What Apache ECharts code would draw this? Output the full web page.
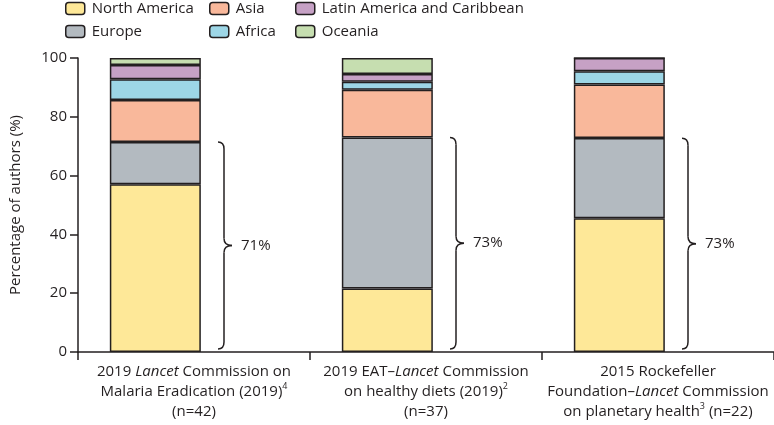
<!DOCTYPE html>
<html>
<head>
<meta charset="utf-8">
<style>
    html, body { margin: 0; padding: 0; background: #fff; }
    #chart { width: 774px; height: 425px; }
</style>
</head>
<body>
<div id="chart"></div>
<script src="https://cdn.jsdelivr.net/npm/echarts@6/dist/echarts.min.js"></script>
<script>
    // category labels (rich text: i = italic, sup = superscript)
    var categories = [
        '2019 {i|Lancet} Commission on\nMalaria Eradication (2019){sup|4}\n(n=42)',
        '2019 EAT–{i|Lancet} Commission\non healthy diets (2019){sup|2}\n(n=37)',
        '2015 Rockefeller\nFoundation–{i|Lancet} Commission\non planetary health{sup|3} (n=22)'
    ];
    // percentage of authors per region
    var northAmerica = [57.1, 21.6, 45.5];
    var europe = [14.3, 51.4, 27.3];
    var asia = [14.3, 16.2, 18.2];
    var africa = [7.1, 2.7, 4.5];
    var latinAmerica = [4.8, 2.7, 4.5];
    var oceania = [2.4, 5.4, 0];
    // braces: [category, from, to, label]
    var braces = [
        [0, 1, 71.4, '71%'],
        [1, 1, 73.0, '73%'],
        [2, 1, 72.7, '73%']
    ];
    var yTicks = [0, 20, 40, 60, 80, 100];

    var FONT = '"Open Sans", "Noto Sans", sans-serif';
    var INK = '#231f20';
    var BRACE_DX = 30;

    var chart = echarts.init(document.getElementById('chart'));

    function bar(name, data, color) {
        return {
            name: name,
            type: 'bar',
            stack: 'a',
            data: data,
            barWidth: 91,
            barGap: '-15%',
            itemStyle: { color: color, borderColor: INK, borderWidth: 1.5 },
            emphasis: { disabled: true }
        };
    }

    function legend(left, names) {
        return {
            orient: 'vertical',
            left: left,
            top: 1,
            padding: 0,
            itemWidth: 19,
            itemHeight: 12,
            itemGap: 8,
            selectedMode: false,
            data: names,
            itemStyle: { borderColor: INK, borderWidth: 1.5 },
            textStyle: { fontFamily: FONT, fontSize: 15, color: INK, padding: [0, 0, 0, 2] }
        };
    }

    function renderBrace(params, api) {
        var c = api.value(0);
        var top = api.coord([c, api.value(2)]);
        var bot = api.coord([c, api.value(1)]);
        var x0 = top[0] + BRACE_DX;
        var y1 = top[1], y2 = bot[1], ym = (y1 + y2) / 2;
        var st = { stroke: INK, lineWidth: 1.5, fill: null };
        return {
            type: 'group',
            children: [
                { type: 'bezierCurve', shape: { x1: x0 - 6, y1: y1, cpx1: x0, cpy1: y1, x2: x0, y2: y1 + 7 }, style: st },
                { type: 'line', shape: { x1: x0, y1: y1 + 7, x2: x0, y2: ym - 7 }, style: st },
                { type: 'bezierCurve', shape: { x1: x0, y1: ym - 7, cpx1: x0, cpy1: ym, x2: x0 + 8, y2: ym }, style: st },
                { type: 'bezierCurve', shape: { x1: x0 + 8, y1: ym, cpx1: x0, cpy1: ym, x2: x0, y2: ym + 7 }, style: st },
                { type: 'line', shape: { x1: x0, y1: ym + 7, x2: x0, y2: y2 - 7 }, style: st },
                { type: 'bezierCurve', shape: { x1: x0, y1: y2 - 7, cpx1: x0, cpy1: y2, x2: x0 - 6, y2: y2 }, style: st },
                {
                    type: 'text',
                    style: {
                        text: api.value(3), x: x0 + 17, y: ym,
                        align: 'left', verticalAlign: 'middle',
                        font: '15px ' + FONT, fill: INK
                    }
                }
            ]
        };
    }

    var option = {
        animation: false,
        legend: [
            legend(65, ['North America', 'Europe']),
            legend(209, ['Asia', 'Africa']),
            legend(295, ['Latin America and Caribbean', 'Oceania'])
        ],
        grid: { left: 70, right: 0, top: 58, bottom: 73, containLabel: false },
        xAxis: {
            type: 'category',
            data: categories,
            axisLine: { lineStyle: { color: INK, width: 1.5 } },
            axisTick: { show: true, length: 8, lineStyle: { color: INK, width: 1.5 } },
            axisLabel: {
                interval: 0,
                margin: 10,
                fontFamily: FONT,
                fontSize: 15,
                lineHeight: 20,
                color: INK,
                rich: {
                    i: { fontFamily: FONT, fontSize: 15, fontStyle: 'italic', color: INK, lineHeight: 20 },
                    sup: { fontFamily: FONT, fontSize: 9, color: INK, verticalAlign: 'top', lineHeight: 15 }
                }
            }
        },
        yAxis: {
            type: 'value',
            min: yTicks[0],
            max: yTicks[yTicks.length - 1],
            interval: 20,
            name: 'Percentage of authors (%)',
            nameLocation: 'middle',
            nameGap: 55,
            nameRotate: 90,
            nameTextStyle: { fontFamily: FONT, fontSize: 15, color: INK },
            axisLine: { show: true, lineStyle: { color: INK, width: 1.5 } },
            axisTick: { show: true, length: 8, lineStyle: { color: INK, width: 1.5 } },
            splitLine: { show: false },
            axisLabel: { fontFamily: FONT, fontSize: 15, color: INK, margin: 11 }
        },
        series: [
            bar('North America', northAmerica, '#fee898'),
            bar('Europe', europe, '#b3bac0'),
            bar('Asia', asia, '#f9b89b'),
            bar('Africa', africa, '#9dd6e6'),
            bar('Latin America and Caribbean', latinAmerica, '#c6a1c5'),
            bar('Oceania', oceania, '#c6deb0'),
            { name: 'spacer', type: 'bar', stack: 'b', barWidth: 91, data: ['-', '-', '-'] },
            {
                type: 'custom',
                name: 'braces',
                data: braces,
                renderItem: renderBrace,
                encode: { x: 0, y: [1, 2] },
                silent: true,
                z: 5
            }
        ]
    };

    chart.setOption(option);
</script>
</body>
</html>
